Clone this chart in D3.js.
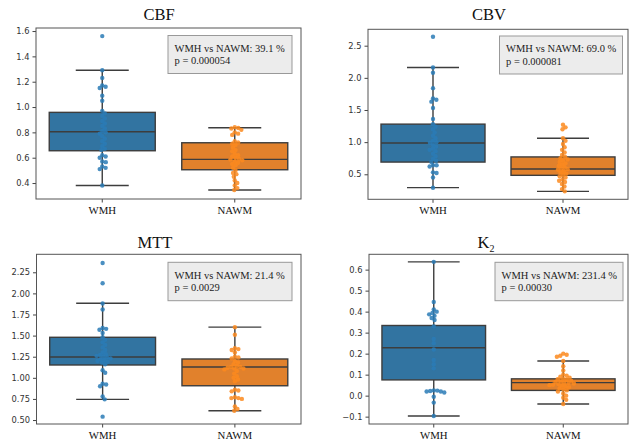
<!DOCTYPE html>
<html>
<head>
<meta charset="utf-8">
<script src="https://cdn.jsdelivr.net/npm/d3@7"></script>
<style>
  body { margin: 0; background: #fff; }
</style>
</head>
<body>
<svg id="svg"></svg>
<script>
// categories
const groups = ['WMH', 'NAWM'];
const titles = ['CBF', 'CBV', 'MTT', 'K'];

// individual values (swarm points)
const cbfWMH = [1.56, 1.29, 1.23, 1.17, 1.16, 1.15, 1.09, 1.05, 0.97, 0.95, 0.93, 0.91, 0.89, 0.87, 0.85, 0.83, 0.81, 0.80, 0.79, 0.77, 0.75, 0.73, 0.71, 0.69, 0.67, 0.66, 0.62, 0.61, 0.60, 0.57, 0.565, 0.53, 0.52, 0.51, 0.38];
const cbfNAWM = [0.84, 0.835, 0.83, 0.82, 0.80, 0.79, 0.78, 0.73, 0.72, 0.71, 0.70, 0.68, 0.66, 0.65, 0.63, 0.62, 0.61, 0.60, 0.59, 0.585, 0.58, 0.57, 0.56, 0.55, 0.54, 0.52, 0.50, 0.48, 0.47, 0.45, 0.42, 0.40, 0.38, 0.36, 0.345];
const cbvWMH = [2.64, 2.16, 2.08, 1.84, 1.68, 1.66, 1.63, 1.53, 1.36, 1.28, 1.24, 1.2, 1.15, 1.1, 1.06, 1.02, 1.0, 0.99, 0.96, 0.93, 0.9, 0.88, 0.86, 0.82, 0.78, 0.74, 0.71, 0.69, 0.64, 0.64, 0.62, 0.53, 0.52, 0.45, 0.29];
const cbvNAWM = [1.27, 1.23, 1.20, 1.06, 1.02, 0.97, 0.92, 0.88, 0.84, 0.80, 0.77, 0.75, 0.73, 0.71, 0.69, 0.67, 0.65, 0.63, 0.61, 0.59, 0.58, 0.57, 0.55, 0.53, 0.51, 0.49, 0.47, 0.45, 0.42, 0.40, 0.38, 0.35, 0.31, 0.27, 0.235];
const mttWMH = [2.36, 2.12, 1.88, 1.81, 1.59, 1.58, 1.57, 1.53, 1.48, 1.45, 1.42, 1.39, 1.36, 1.33, 1.30, 1.28, 1.27, 1.26, 1.25, 1.24, 1.23, 1.22, 1.21, 1.20, 1.19, 1.18, 1.16, 1.09, 1.06, 0.93, 0.92, 0.90, 0.78, 0.745, 0.54];
const mttNAWM = [1.60, 1.51, 1.35, 1.34, 1.33, 1.30, 1.25, 1.24, 1.23, 1.20, 1.18, 1.16, 1.14, 1.13, 1.13, 1.12, 1.11, 1.11, 1.10, 1.08, 1.05, 1.02, 1.00, 0.98, 0.96, 0.86, 0.85, 0.84, 0.77, 0.76, 0.76, 0.75, 0.66, 0.63, 0.61];
const k2WMH = [0.637, 0.446, 0.41, 0.40, 0.394, 0.387, 0.38, 0.37, 0.36, 0.33, 0.27, 0.25, 0.22, 0.17, 0.15, 0.13, 0.025, 0.024, 0.022, 0.02, 0.02, 0.015, -0.005, -0.033, -0.097];
const k2NAWM = [0.20, 0.195, 0.19, 0.185, 0.165, 0.14, 0.12, 0.10, 0.095, 0.09, 0.085, 0.08, 0.078, 0.075, 0.07, 0.068, 0.065, 0.062, 0.06, 0.058, 0.055, 0.052, 0.05, 0.048, 0.045, 0.04, 0.035, 0.03, 0.025, 0.02, 0.01, 0.0, -0.01, -0.02, -0.04];

// box stats per group: [lower whisker, q1, median, q3, upper whisker]
const cbfBox = [[0.38, 0.655, 0.805, 0.958, 1.29], [0.345, 0.505, 0.587, 0.718, 0.836]];
const cbvBox = [[0.292, 0.69, 0.987, 1.28, 2.16], [0.235, 0.484, 0.583, 0.77, 1.06]];
const mttBox = [[0.745, 1.152, 1.246, 1.48, 1.883], [0.61, 0.906, 1.128, 1.223, 1.60]];
const k2Box = [[-0.097, 0.075, 0.228, 0.334, 0.637], [-0.04, 0.025, 0.062, 0.08, 0.165]];

// y tick labels
const cbfTicks = [0.4, 0.6, 0.8, 1.0, 1.2, 1.4, 1.6];
const cbvTicks = [0.5, 1.0, 1.5, 2.0, 2.5];
const mttTicks = [0.5, 0.75, 1.0, 1.25, 1.5, 1.75, 2.0, 2.25];
const k2Ticks = [-0.1, 0.0, 0.1, 0.2, 0.3, 0.4, 0.5, 0.6];

// annotation text
const cbfNote = ['WMH vs NAWM: 39.1 %', 'p = 0.000054'];
const cbvNote = ['WMH vs NAWM: 69.0 %', 'p = 0.000081'];
const mttNote = ['WMH vs NAWM: 21.4 %', 'p = 0.0029'];
const k2Note = ['WMH vs NAWM: 231.4 %', 'p = 0.00030'];

const width = 631;
const height = 444;
const boxColors = ['#3274a1', '#e1812c'];
const dotColors = ['#2a7bb6', '#fb8a1e'];
const lineColor = '#3d3d3d';
const serif = '"Liberation Serif", "Times New Roman", serif';
const sans = '"DejaVu Sans", sans-serif';

const svg = d3.select('#svg')
  .attr('width', width)
  .attr('height', height);

// layout of each subplot
const panels = [
  { title: titles[0], data: [cbfWMH, cbfNAWM], box: cbfBox, ticks: cbfTicks, fmt: '.1f', note: cbfNote,
    frame: [36, 28, 301, 199], domain: [0.274, 1.624], titleX: 159, titleY: 20, noteBox: [168, 35.5, 124, 38] },
  { title: titles[1], data: [cbvWMH, cbvNAWM], box: cbvBox, ticks: cbvTicks, fmt: '.1f', note: cbvNote,
    frame: [368, 29.3, 628, 199.3], domain: [0.111, 2.755], titleX: 489, titleY: 20, noteBox: [499.5, 36, 123, 38] },
  { title: titles[2], data: [mttWMH, mttNAWM], box: mttBox, ticks: mttTicks, fmt: '.2f', note: mttNote,
    frame: [36.5, 254.3, 301, 424], domain: [0.453, 2.463], titleX: 155, titleY: 247.5, noteBox: [168, 262.3, 124, 38.4] },
  { title: titles[3], data: [k2WMH, k2NAWM], box: k2Box, ticks: k2Ticks, fmt: '.1f', note: k2Note, sub: '2',
    frame: [369, 254.3, 628, 424], domain: [-0.135, 0.673], titleX: 486, titleY: 247.5, noteBox: [495, 262.3, 128, 38.4] }
];

// simple beeswarm: place each point as close to the center as possible without overlap
function swarm(values, y, gap) {
  const pts = values.map(v => ({ v: v, y: y(v) })).sort((a, b) => a.y - b.y);
  const placed = [];
  const d = gap;
  pts.forEach(p => {
    const near = placed.filter(q => Math.abs(q.y - p.y) < d);
    const cands = [0];
    near.forEach(q => {
      const dx = Math.sqrt(d * d - (q.y - p.y) ** 2);
      cands.push(q.x + dx, q.x - dx);
    });
    cands.sort((a, b) => Math.abs(a) - Math.abs(b));
    p.x = cands.find(c => near.every(q => (q.x - c) ** 2 + (q.y - p.y) ** 2 >= d * d - 1e-6));
    placed.push(p);
  });
  return placed;
}

panels.forEach(p => {
  const [x0, y0, x1, y1] = p.frame;
  const g = svg.append('g');

  const x = d3.scaleBand().domain(groups).range([x0, x1]);
  const y = d3.scaleLinear().domain(p.domain).range([y1, y0]);
  const bw = x.bandwidth() * 0.8;

  // title
  const t = g.append('text')
    .attr('x', p.titleX)
    .attr('y', p.titleY)
    .attr('text-anchor', 'middle')
    .attr('font-family', serif)
    .attr('font-size', '16.5px')
    .attr('fill', '#111')
    .text(p.title);
  if (p.sub) {
    t.append('tspan')
      .attr('dy', 4)
      .attr('font-size', '10px')
      .text(p.sub);
  }

  // axes
  g.append('g')
    .attr('transform', `translate(${x0},0)`)
    .call(d3.axisLeft(y).tickValues(p.ticks).tickFormat(d3.format(p.fmt)).tickSize(3.5).tickPadding(3))
    .call(a => a.select('.domain').remove())
    .call(a => a.selectAll('.tick line').attr('stroke', '#444'))
    .call(a => a.selectAll('.tick text')
      .style('font-family', sans)
      .style('font-size', '8.3px')
      .attr('fill', '#333'));

  g.append('g')
    .attr('transform', `translate(0,${y1})`)
    .call(d3.axisBottom(x).tickSize(3.5).tickPadding(4))
    .call(a => a.select('.domain').remove())
    .call(a => a.selectAll('.tick line').attr('stroke', '#444'))
    .call(a => a.selectAll('.tick text')
      .style('font-family', serif)
      .style('font-size', '10.8px')
      .attr('fill', '#111'));

  // boxes
  groups.forEach((grp, i) => {
    const [lo, q1, med, q3, hi] = p.box[i];
    const cx = x(grp) + x.bandwidth() / 2;
    const bg = g.append('g');
    bg.append('line')
      .attr('x1', cx).attr('x2', cx)
      .attr('y1', y(hi)).attr('y2', y(q3))
      .attr('stroke', lineColor).attr('stroke-width', 1.4);
    bg.append('line')
      .attr('x1', cx).attr('x2', cx)
      .attr('y1', y(q1)).attr('y2', y(lo))
      .attr('stroke', lineColor).attr('stroke-width', 1.4);
    [lo, hi].forEach(v => {
      bg.append('line')
        .attr('x1', cx - bw / 4).attr('x2', cx + bw / 4)
        .attr('y1', y(v)).attr('y2', y(v))
        .attr('stroke', lineColor).attr('stroke-width', 1.4);
    });
    bg.append('rect')
      .attr('x', cx - bw / 2)
      .attr('y', y(q3))
      .attr('width', bw)
      .attr('height', y(q1) - y(q3))
      .attr('fill', boxColors[i])
      .attr('stroke', lineColor)
      .attr('stroke-width', 1.4);
    bg.append('line')
      .attr('x1', cx - bw / 2).attr('x2', cx + bw / 2)
      .attr('y1', y(med)).attr('y2', y(med))
      .attr('stroke', lineColor).attr('stroke-width', 1.4);

    // swarm points
    const pts = swarm(p.data[i], y, 3.6);
    bg.selectAll('circle')
      .data(pts)
      .join('circle')
      .attr('cx', d => cx + d.x)
      .attr('cy', d => d.y)
      .attr('r', 2.2)
      .attr('fill', dotColors[i])
      .attr('fill-opacity', 0.85);
  });

  // frame
  g.append('rect')
    .attr('x', x0).attr('y', y0)
    .attr('width', x1 - x0).attr('height', y1 - y0)
    .attr('fill', 'none')
    .attr('stroke', '#555')
    .attr('stroke-width', 1);

  // annotation box
  const [bx, by, bwid, bh] = p.noteBox;
  g.append('rect')
    .attr('x', bx).attr('y', by)
    .attr('width', bwid).attr('height', bh)
    .attr('fill', '#ececec')
    .attr('stroke', '#999')
    .attr('stroke-width', 1);
  p.note.forEach((line, k) => {
    g.append('text')
      .attr('x', bx + 6.5)
      .attr('y', by + 16.3 + k * 12.4)
      .attr('font-family', serif)
      .attr('font-size', '10.5px')
      .attr('fill', '#222')
      .text(line);
  });
});
</script>
</body>
</html>
